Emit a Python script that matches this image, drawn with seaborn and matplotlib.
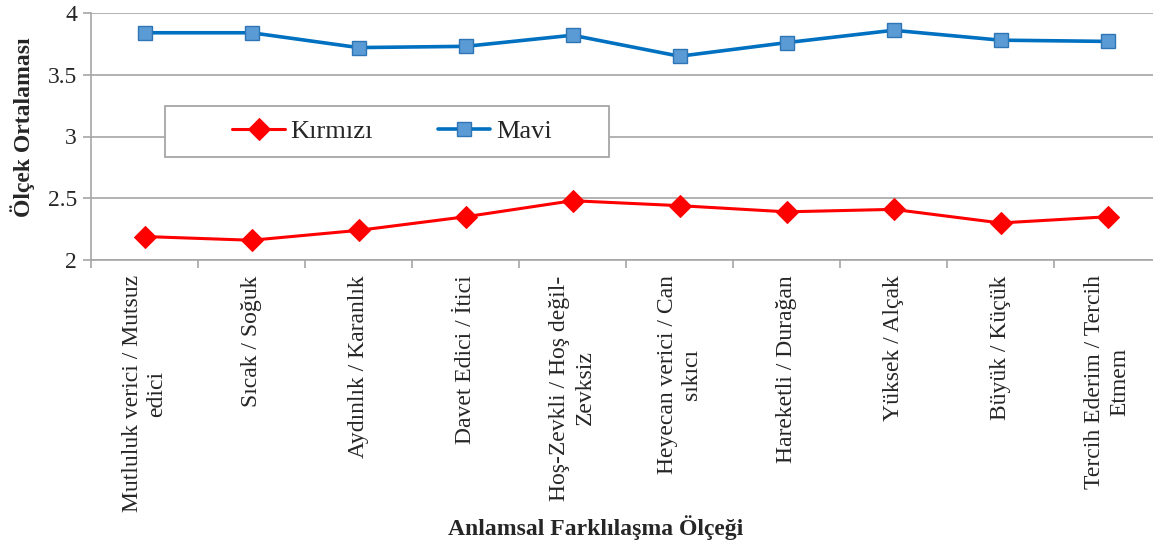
import matplotlib
matplotlib.use("Agg")
import matplotlib.pyplot as plt
import seaborn as sns
import pandas as pd
from matplotlib.ticker import FixedLocator, FuncFormatter
from matplotlib.patches import Rectangle

categories = [
    "Mutluluk verici / Mutsuz\nedici",
    "Sıcak / Soğuk",
    "Aydınlık / Karanlık",
    "Davet Edici / İtici",
    "Hoş-Zevkli / Hoş değil-\nZevksiz",
    "Heyecan verici / Can\nsıkıcı",
    "Hareketli / Durağan",
    "Yüksek / Alçak",
    "Büyük / Küçük",
    "Tercih Ederim / Tercih\nEtmem",
]
kirmizi = [2.19, 2.16, 2.24, 2.35, 2.48, 2.44, 2.39, 2.41, 2.30, 2.35]
mavi = [3.84, 3.84, 3.72, 3.73, 3.82, 3.65, 3.76, 3.86, 3.78, 3.77]
series_names = ["Kırmızı", "Mavi"]
y_ticks = [2, 2.5, 3, 3.5, 4]

sns.set_theme(style="white")
plt.rcParams["font.family"] = ["Liberation Serif", "DejaVu Serif"]

df = pd.DataFrame({
    "Kategori": categories * 2,
    "Değer": kirmizi + mavi,
    "Seri": [series_names[0]] * len(categories) + [series_names[1]] * len(categories),
})

W, H = 1153, 546
ax_left, ax_top, ax_bottom, ax_w = 91, 13, 260, 1070
ax_h = ax_bottom - ax_top
fig = plt.figure(figsize=(W / 100, H / 100), dpi=100)
ax = fig.add_axes([ax_left / W, 1 - ax_bottom / H, ax_w / W, ax_h / H])

styles = {
    "Kırmızı": dict(color="#FF0000", marker="D", markersize=11, markerfacecolor="#FF0000",
                    markeredgecolor="#FF0000", linewidth=2.2),
    "Mavi": dict(color="#0070C0", marker="s", markersize=10, markerfacecolor="#5B9BD5",
                 markeredgecolor="#2E75B6", markeredgewidth=1.0, linewidth=2.6),
}
for name in series_names:
    sub = df[df["Seri"] == name]
    sns.lineplot(data=sub, x="Kategori", y="Değer", ax=ax, label=name, sort=False, **styles[name])

ax.set_xlim(-0.5, len(categories) - 0.5)
ax.set_ylim(2, 4)
ax.yaxis.set_major_locator(FixedLocator(y_ticks))
ax.yaxis.set_major_formatter(FuncFormatter(lambda v, p: f"{v:g}"))
ax.yaxis.grid(True, color="#A6A6A6", linewidth=1.2)
ax.set_axisbelow(True)

ax.set_xticks(range(len(categories)))
ax.set_xticklabels(categories, rotation=90, ha="center", va="top", multialignment="center",
                   fontsize=17, linespacing=1.25)
ax.tick_params(axis="x", which="major", length=0, pad=11)
ax.set_xticks([i - 0.5 for i in range(len(categories) + 1)], minor=True)
ax.tick_params(axis="x", which="minor", length=6, width=1.2, color="#A6A6A6", direction="out",
               bottom=True)
ax.tick_params(axis="y", which="major", length=6, width=1.2, color="#A6A6A6", direction="out",
               labelsize=17, pad=4, left=True)

for s in ["top", "right"]:
    ax.spines[s].set_visible(False)
for s in ["left", "bottom"]:
    ax.spines[s].set_color("#A6A6A6")
    ax.spines[s].set_linewidth(1.2)

ax.set_xlabel("Anlamsal Farklılaşma Ölçeği", fontsize=17, fontweight="bold")
ax.set_ylabel("Ölçek Ortalaması", fontsize=17, fontweight="bold")
ax.xaxis.set_label_coords((596 - ax_left) / ax_w, -(528 - ax_bottom) / ax_h)
ax.xaxis.label.set_va("center")
ax.yaxis.set_label_coords(-(ax_left - 23) / ax_w, (ax_bottom - 127) / ax_h)
ax.yaxis.label.set_va("center")

# legend frame box
bx0, bx1, by0, by1 = 165, 609, 106, 157
frame = Rectangle(((bx0 - ax_left) / ax_w, (ax_bottom - by1) / ax_h),
                  (bx1 - bx0) / ax_w, (by1 - by0) / ax_h, transform=ax.transAxes,
                  facecolor="white", edgecolor="#A6A6A6", linewidth=1.3, zorder=4.5)
ax.add_patch(frame)
leg = ax.legend(loc="center", bbox_to_anchor=((392 - ax_left) / ax_w, (ax_bottom - 131.5) / ax_h),
                ncol=2, fontsize=19, frameon=False, handlelength=2.0, borderpad=0,
                columnspacing=2.45, handletextpad=0.2)
leg.set_zorder(5)

fig.savefig("out.png", dpi=100)
